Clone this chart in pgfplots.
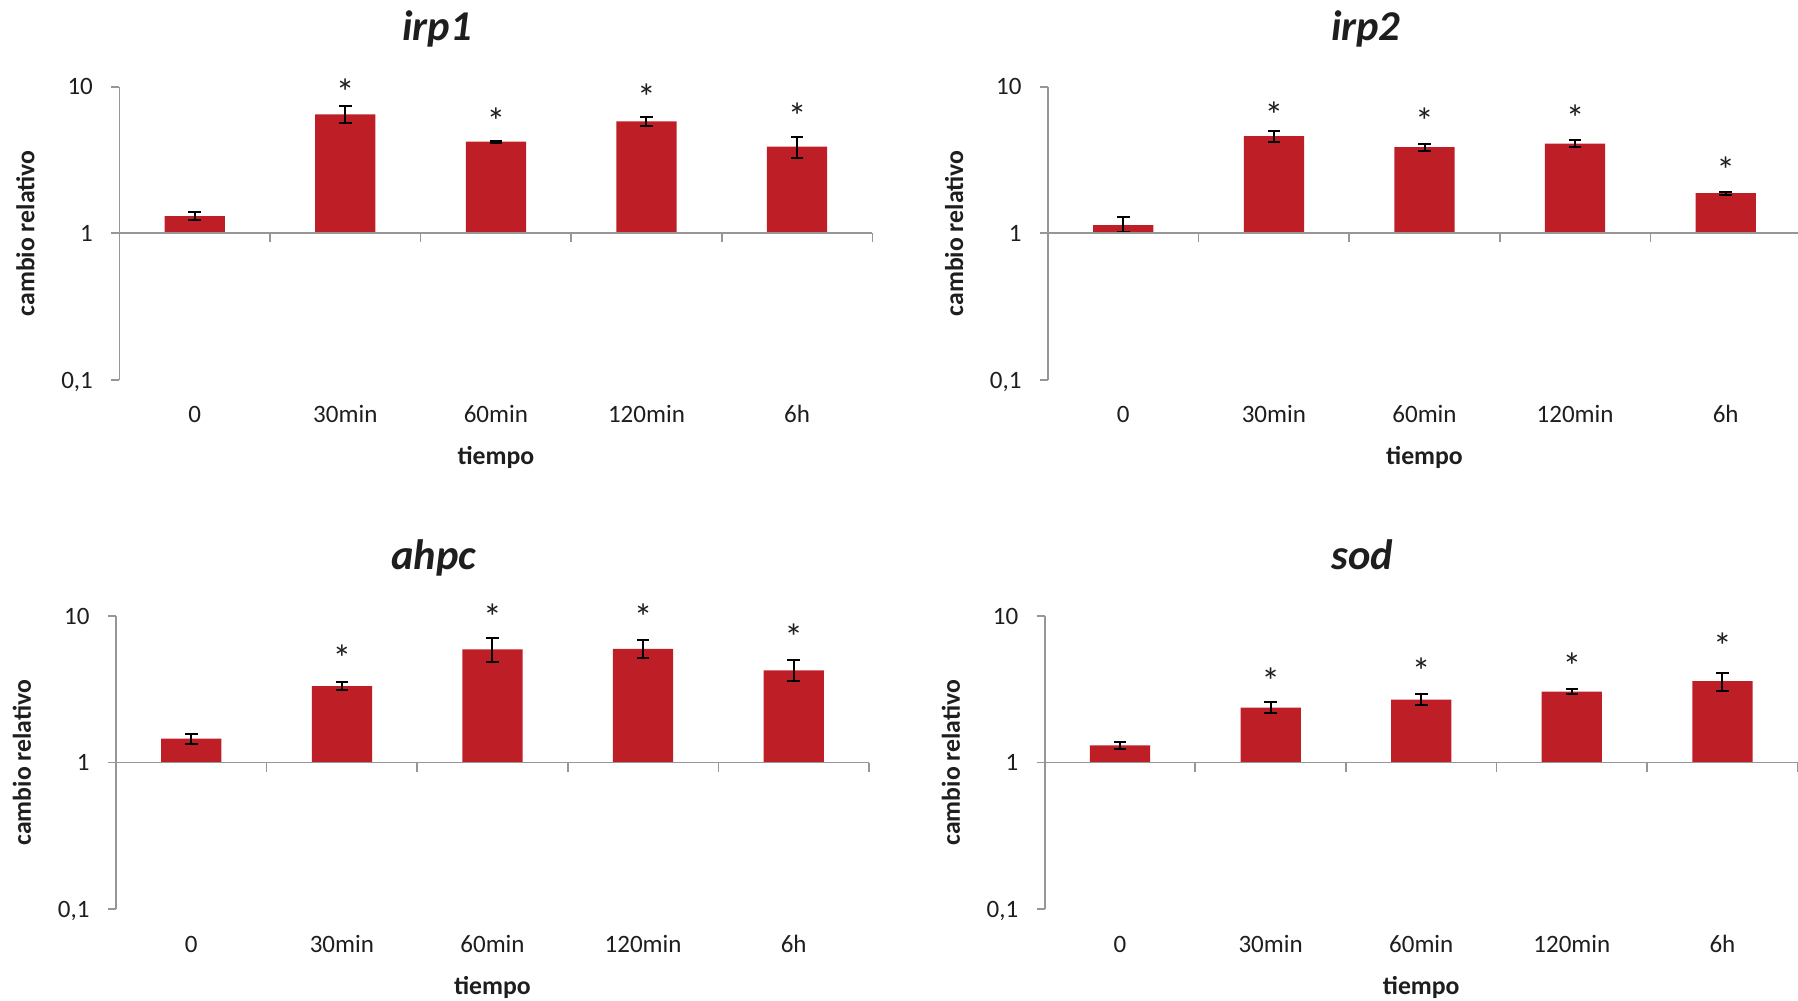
\documentclass[border=0pt]{standalone}
\usepackage{fontspec}
\setmainfont{Carlito}
\usepackage{pgfplots}
\pgfplotsset{compat=1.18}
\definecolor{barred}{RGB}{190,30,38}
\definecolor{axgray}{RGB}{150,150,150}
\definecolor{txt}{RGB}{30,30,30}
\pgfplotsset{
  mypanel/.style={
    log origin y=0,
    scale only axis, width=301.2pt, height=117.3pt,
    xmin=-0.5, xmax=4.5, ymin=0.1, ymax=10,
    clip=false,
    axis lines*=left,
    x axis line style={draw=none},
    y axis line style={axgray, line width=0.7pt},
    xtick={0,...,4},
    xticklabels={0,30min,60min,120min,6h},
    x tick style={draw=none},
    ytick={0.1,1,10},
    yticklabels={{0,1},{1},{10}},
    yminorticks=false,
    minor y tick style={draw=none},
    tick align=outside,
    y tick style={axgray, line width=0.7pt},
    major tick length=3.2pt,
    tick label style={font=\fontsize{10}{10}\selectfont, text=txt},
    xticklabel style={anchor=base, inner sep=0pt, yshift=-14.0pt},
    yticklabel style={anchor=base east, inner sep=0pt, xshift=-7.2pt, yshift=-3.3pt},
    every axis x label/.style={at={(axis description cs:0.5,0)}, anchor=base, yshift=-34pt, font=\fontsize{10.3}{10.3}\selectfont\bfseries, text=txt},
    every axis y label/.style={at={(axis description cs:0,0.5)}, xshift=-34pt, rotate=90, anchor=base, font=\fontsize{10.3}{10.3}\selectfont\bfseries, text=txt},
    every axis title/.style={at={(axis description cs:0.422,1)}, anchor=base, yshift=18.5pt, font=\fontsize{17}{17}\selectfont\bfseries\itshape, text=txt},
    xlabel={tiempo},
    ylabel={cambio relativo},
  },
  mybars/.style={ybar, bar width=0.4, fill=barred, draw=none,
    error bars/y dir=both, error bars/y explicit,
    error bars/error bar style={black, line width=0.8pt},
    error bars/error mark options={black, line width=0.8pt, mark size=2.5pt, rotate=90}},
  mystars/.style={draw=none, mark=none, nodes near coords={*},
    every node near coord/.style={anchor=center, inner sep=0pt, yshift=-3pt, font=\fontsize{15}{15}\selectfont, text=txt}},
}
\newcommand{\oneaxis}{%
  \draw[axgray, line width=0.7pt] (axis cs:-0.5,1) -- (axis cs:4.5,1);
  \pgfplotsinvokeforeach{0.5,1.5,2.5,3.5,4.5}{\draw[axgray, line width=0.7pt] (axis cs:##1,1) -- ([yshift=-3.6pt]axis cs:##1,1);}%
}
\begin{document}
\begin{tikzpicture}
\path[use as bounding box] (0,0) rectangle (719.2pt,400.4pt);
% irp1
\begin{semilogyaxis}[mypanel, at={(47.76pt,248.4pt)}, anchor=south west, title={irp1}]
\addplot[mybars] coordinates {
 (0,1.31) += (0,0.08) -= (0,0.08)
 (1,6.48) += (0,0.86) -= (0,0.86)
 (2,4.22) += (0,0.05) -= (0,0.07)
 (3,5.80) += (0,0.38) -= (0,0.38)
 (4,3.90) += (0,0.66) -= (0,0.65)
};
\addplot[mystars] coordinates {(1,10.4) (2,6.51) (3,9.49) (4,7.04)};
\oneaxis
\end{semilogyaxis}
% irp2
\begin{semilogyaxis}[mypanel, at={(419.2pt,248.4pt)}, anchor=south west, title={irp2}]
\addplot[mybars] coordinates {
 (0,1.14) += (0,0.15) -= (0,0.12)
 (1,4.61) += (0,0.40) -= (0,0.44)
 (2,3.88) += (0,0.18) -= (0,0.22)
 (3,4.09) += (0,0.22) -= (0,0.21)
 (4,1.88) += (0,0.05) -= (0,0.06)
};
\addplot[mystars] coordinates {(1,7.23) (2,6.51) (3,6.86) (4,3.02)};
\oneaxis
\end{semilogyaxis}
% ahpc
\begin{semilogyaxis}[mypanel, at={(46.4pt,36.7pt)}, anchor=south west, title={ahpc}]
\addplot[mybars] coordinates {
 (0,1.46) += (0,0.11) -= (0,0.11)
 (1,3.33) += (0,0.20) -= (0,0.18)
 (2,5.93) += (0,1.11) -= (0,1.10)
 (3,5.96) += (0,0.90) -= (0,0.81)
 (4,4.26) += (0,0.75) -= (0,0.65)
};
\addplot[mystars] coordinates {(1,5.77) (2,10.99) (3,11.1) (4,8.03)};
\oneaxis
\end{semilogyaxis}
% sod
\begin{semilogyaxis}[mypanel, at={(417.9pt,36.7pt)}, anchor=south west, title={sod}]
\addplot[mybars] coordinates {
 (0,1.31) += (0,0.08) -= (0,0.08)
 (1,2.37) += (0,0.21) -= (0,0.19)
 (2,2.69) += (0,0.25) -= (0,0.23)
 (3,3.05) += (0,0.13) -= (0,0.13)
 (4,3.59) += (0,0.52) -= (0,0.53)
};
\addplot[mystars] coordinates {(1,4.06) (2,4.76) (3,5.15) (4,7.04)};
\oneaxis
\end{semilogyaxis}
\end{tikzpicture}
\end{document}
